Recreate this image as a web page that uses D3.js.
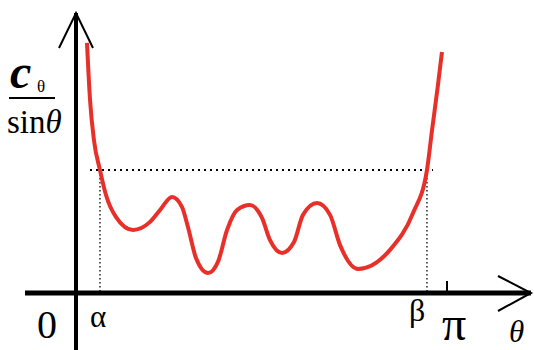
<!DOCTYPE html>
<html>
<head>
<meta charset="utf-8">
<script src="https://cdn.jsdelivr.net/npm/d3@7"></script>
<style>
  body { margin: 0; background: #fff; }
</style>
</head>
<body>
<div id="chart"></div>
<script>
// curve samples: theta (rad) and c/sin(theta) value
var theta = [0.093, 0.119, 0.152, 0.203, 0.254, 0.339, 0.483, 0.627, 0.711, 0.813, 0.898, 0.948, 1.016, 1.118, 1.202, 1.279, 1.363, 1.473, 1.575, 1.643, 1.745, 1.846, 1.922, 2.041, 2.151, 2.236, 2.388, 2.659, 2.854, 2.972, 3.015, 3.065, 3.099];
var values = [8.93, 6.89, 5.46, 4.39, 3.50, 2.71, 2.25, 2.54, 2.96, 3.43, 3.07, 2.36, 1.25, 0.71, 1.11, 2.25, 2.96, 3.14, 2.68, 1.89, 1.43, 1.82, 2.79, 3.21, 2.79, 1.71, 0.86, 1.54, 2.86, 4.39, 5.82, 7.43, 8.61];
var level = 4.39;
var alpha = 0.203, beta = 2.972;
var xLabels = ["0", "\u03b1", "\u03b2", "\u03c0"];

var width = 534, height = 350;
var serif = "'Liberation Serif'";
var svg = d3.select("#chart").append("svg")
  .attr("width", width).attr("height", height);

var x = d3.scaleLinear().domain([0, Math.PI]).range([76, 447]);
var y = d3.scaleLinear().domain([0, 10]).range([293, 13]);

// axes
var x0 = x.invert(25), x1 = x.invert(531);
svg.append("line")
  .attr("x1", x(x0)).attr("x2", x(x1))
  .attr("y1", y(0)).attr("y2", y(0))
  .attr("stroke", "#000").attr("stroke-width", 5);
svg.append("line")
  .attr("x1", x(0)).attr("x2", x(0))
  .attr("y1", height).attr("y2", y(10))
  .attr("stroke", "#000").attr("stroke-width", 4);

// open arrowheads
svg.append("path")
  .attr("d", "M" + (x(x1) - 33) + "," + (y(0) - 17) + "L" + x(x1) + "," + y(0) + "L" + (x(x1) - 33) + "," + (y(0) + 18))
  .attr("fill", "none").attr("stroke", "#000").attr("stroke-width", 2);
svg.append("path")
  .attr("d", "M" + (x(0) - 17) + "," + (y(10) + 35) + "L" + x(0) + "," + y(10) + "L" + (x(0) + 17) + "," + (y(10) + 35))
  .attr("fill", "none").attr("stroke", "#000").attr("stroke-width", 2);

// pi tick
svg.append("line")
  .attr("x1", x(Math.PI)).attr("x2", x(Math.PI))
  .attr("y1", y(0) - 12).attr("y2", y(0))
  .attr("stroke", "#000").attr("stroke-width", 2);

// dotted guides
var dots = svg.append("g").attr("stroke", "#000").attr("stroke-width", 2)
  .attr("stroke-dasharray", "2,4").attr("fill", "none");
dots.append("line")
  .attr("x1", x(0) + 14).attr("x2", x(beta) + 6)
  .attr("y1", y(level)).attr("y2", y(level));
dots.append("line").attr("stroke-width", 1.3).attr("stroke-dasharray", "1.5,2.5")
  .attr("x1", x(alpha)).attr("x2", x(alpha))
  .attr("y1", y(level)).attr("y2", y(0));
dots.append("line").attr("stroke-width", 1.3).attr("stroke-dasharray", "1.5,2.5")
  .attr("x1", x(beta)).attr("x2", x(beta))
  .attr("y1", y(level)).attr("y2", y(0));

// red curve
var pts = theta.map(function(t, i) { return [t, values[i]]; });
var line = d3.line()
  .x(function(d) { return x(d[0]); })
  .y(function(d) { return y(d[1]); })
  .curve(d3.curveMonotoneX);
svg.append("path")
  .datum(pts)
  .attr("d", line)
  .attr("fill", "none")
  .attr("stroke", "#e8302a")
  .attr("stroke-width", 4)
  .attr("stroke-linejoin", "round");

// x labels
var labelPos = [[37, 338, 40], [x(alpha) - 10, 327, 31], [x(beta) - 18, 321, 32], [x(Math.PI) - 5, 340, 48]];
xLabels.forEach(function(t, i) {
  svg.append("text")
    .attr("x", labelPos[i][0]).attr("y", labelPos[i][1])
    .style("font-family", serif)
    .style("font-size", labelPos[i][2] + "px")
    .text(t);
});
svg.append("text")
  .attr("x", 509).attr("y", 342)
  .style("font-family", serif)
  .style("font-size", "31px").style("font-style", "italic")
  .text("\u03b8");

// y label fraction
svg.append("text")
  .attr("x", 10).attr("y", 88)
  .style("font-family", serif)
  .style("font-size", "48px").style("font-style", "italic").style("font-weight", "bold")
  .text("c");
svg.append("text")
  .attr("x", 37).attr("y", 92)
  .style("font-family", serif)
  .style("font-size", "17px")
  .text("\u03b8");
svg.append("line")
  .attr("x1", 9).attr("x2", 55).attr("y1", 98).attr("y2", 98)
  .attr("stroke", "#000").attr("stroke-width", 2);
var sinT = svg.append("text").attr("x", 7).attr("y", 133)
  .style("font-family", serif).style("font-size", "33px");
sinT.append("tspan").text("sin");
sinT.append("tspan").style("font-style", "italic").text("\u03b8");
</script>
</body>
</html>
